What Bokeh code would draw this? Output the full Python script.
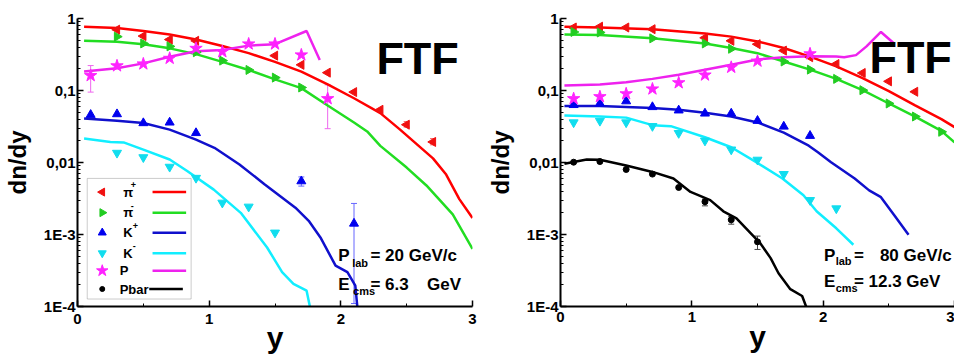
import numpy as np
from bokeh.plotting import figure
from bokeh.models import (Range1d, FixedTicker, BoxAnnotation, Whisker,
                          ColumnDataSource, TeeHead, Label)
from bokeh.layouts import row
from bokeh.embed import file_html
from bokeh.resources import INLINE
from bokeh.core.properties import value

FONT = "Liberation Sans"

# ---------------- data: P_lab = 20 GeV/c ----------------
pip20_x = [0.3, 0.5, 0.7, 0.9, 1.5, 1.7, 1.9, 2.1, 2.3, 2.5, 2.7]
pip20_y = [0.70, 0.57, 0.51, 0.49, 0.305, 0.227, 0.177, 0.095, 0.054, 0.0335, 0.0193]
pim20_x = [0.3, 0.5, 0.7, 0.9, 1.1, 1.3, 1.5, 1.7]
pim20_y = [0.56, 0.45, 0.41, 0.34, 0.26, 0.193, 0.151, 0.110]
kp20_x = [0.1, 0.3, 0.5, 0.7, 0.9, 1.7, 2.1]
kp20_y = [0.046, 0.047, 0.0353, 0.036, 0.0257, 0.0055, 0.00142]
km20_x = [0.3, 0.5, 0.7, 0.9, 1.1, 1.3, 1.5]
km20_y = [0.0136, 0.0118, 0.0087, 0.0061, 0.00276, 0.00243, 0.00106]
p20_x = [0.1, 0.3, 0.5, 0.7, 0.9, 1.1, 1.3, 1.5, 1.7, 1.9]
p20_y = [0.161, 0.22, 0.234, 0.28, 0.385, 0.346, 0.443, 0.443, 0.312, 0.077]

# error bars (x, low, high)
p20_err_x = [0.1, 1.9]
p20_err_lo = [0.095, 0.0295]
p20_err_hi = [0.222, 0.12]
kp20_err_x = [1.7, 2.1]
kp20_err_lo = [0.0047, 0.00011]
kp20_err_hi = [0.0063, 0.0027]
pip20_err_x = [2.5, 2.7]
pip20_err_lo = [0.031, 0.0176]
pip20_err_hi = [0.037, 0.0215]

# FTF model curves, 20 GeV/c
ftf_pip20_x = [0.05, 0.3, 0.5, 0.7, 0.9, 1.1, 1.3, 1.5, 1.7, 1.9, 2.1, 2.3, 2.45, 2.7, 2.8, 2.9, 3.0]
ftf_pip20_y = [0.77, 0.74, 0.67, 0.60, 0.51, 0.415, 0.33, 0.25, 0.183, 0.122, 0.078, 0.0485, 0.0286, 0.0114, 0.0068, 0.0031, 0.0017]
ftf_pim20_x = [0.05, 0.3, 0.5, 0.7, 0.9, 1.1, 1.3, 1.5, 1.7, 1.9, 2.1, 2.2, 2.3, 2.5, 2.65, 2.85, 3.0]
ftf_pim20_y = [0.49, 0.475, 0.44, 0.385, 0.32, 0.25, 0.193, 0.143, 0.108, 0.062, 0.036, 0.027, 0.017, 0.0085, 0.0048, 0.0019, 0.00063]
ftf_kp20_x = [0.05, 0.3, 0.5, 0.7, 0.9, 1.04, 1.23, 1.42, 1.655, 1.756, 1.845, 1.96, 2.05, 2.11, 2.13]
ftf_kp20_y = [0.041, 0.038, 0.0353, 0.0286, 0.0208, 0.016, 0.0094, 0.0050, 0.00236, 0.00155, 0.00091, 0.00037, 0.00030, 0.000195, 0.00008]
ftf_km20_x = [0.05, 0.25, 0.35, 0.5, 0.7, 0.833, 1.035, 1.24, 1.44, 1.554, 1.64, 1.74, 1.77]
ftf_km20_y = [0.0215, 0.0193, 0.019, 0.0151, 0.011, 0.0076, 0.0042, 0.0020, 0.00066, 0.00030, 0.000206, 0.000166, 0.00009]
ftf_p20_x = [0.05, 0.3, 0.5, 0.7, 0.9, 1.1, 1.3, 1.5, 1.74, 1.84]
ftf_p20_y = [0.183, 0.204, 0.238, 0.295, 0.35, 0.365, 0.42, 0.44, 0.67, 0.265]

# ---------------- data: P_lab = 80 GeV/c ----------------
pip80_x = [0.1, 0.3, 0.5, 0.7, 1.1, 1.3, 1.5, 1.7, 1.9, 2.1, 2.3, 2.5, 2.7]
pip80_y = [0.75, 0.77, 0.75, 0.71, 0.54, 0.49, 0.44, 0.358, 0.29, 0.233, 0.175, 0.134, 0.096]
pim80_x = [0.1, 0.3, 0.7, 1.1, 1.3, 1.7, 1.9, 2.1, 2.3, 2.5, 2.7, 2.9]
pim80_y = [0.65, 0.64, 0.53, 0.45, 0.38, 0.253, 0.195, 0.145, 0.101, 0.066, 0.0435, 0.0267]
kp80_x = [0.1, 0.3, 0.5, 0.7, 0.9, 1.1, 1.3, 1.5, 1.7, 1.9]
kp80_y = [0.063, 0.066, 0.071, 0.059, 0.053, 0.048, 0.048, 0.038, 0.0316, 0.0235]
km80_x = [0.1, 0.3, 0.5, 0.7, 0.9, 1.1, 1.3, 1.5, 1.7, 1.9, 2.1]
km80_y = [0.036, 0.0378, 0.036, 0.032, 0.0256, 0.0201, 0.0151, 0.0109, 0.0069, 0.0030, 0.0023]
p80_x = [0.1, 0.3, 0.5, 0.7, 0.9, 1.1, 1.3, 1.5, 1.9]
p80_y = [0.077, 0.082, 0.090, 0.105, 0.128, 0.164, 0.21, 0.256, 0.323]
pbar80_x = [0.1, 0.3, 0.5, 0.7, 0.9, 1.1, 1.3, 1.5]
pbar80_y = [0.0101, 0.0103, 0.0080, 0.0069, 0.0045, 0.00285, 0.0016, 0.00079]
pbar80_err_x = [1.1, 1.3, 1.5]
pbar80_err_lo = [0.0025, 0.00139, 0.00062]
pbar80_err_hi = [0.0031, 0.00178, 0.00095]

ftf_pip80_x = [0.03, 0.3, 0.7, 1.1, 1.3, 1.5, 1.7, 1.9, 2.1, 2.3, 2.5, 2.7, 2.9, 3.0]
ftf_pip80_y = [0.77, 0.75, 0.71, 0.62, 0.56, 0.48, 0.39, 0.296, 0.216, 0.149, 0.098, 0.062, 0.040, 0.031]
ftf_pim80_x = [0.03, 0.3, 0.7, 1.1, 1.3, 1.5, 1.7, 1.9, 2.1, 2.3, 2.5, 2.7, 2.9, 3.0]
ftf_pim80_y = [0.60, 0.59, 0.53, 0.45, 0.39, 0.33, 0.253, 0.195, 0.145, 0.101, 0.066, 0.0435, 0.0275, 0.019]
ftf_kp80_x = [0.03, 0.3, 0.7, 0.9, 1.1, 1.3, 1.5, 1.7, 1.89, 1.96, 2.06, 2.24, 2.35, 2.44, 2.54, 2.65]
ftf_kp80_y = [0.061, 0.061, 0.057, 0.054, 0.049, 0.0435, 0.036, 0.026, 0.0171, 0.0139, 0.0101, 0.0060, 0.0041, 0.0033, 0.00187, 0.00099]
ftf_km80_x = [0.03, 0.3, 0.5, 0.7, 0.84, 1.1, 1.3, 1.49, 1.69, 1.85, 1.95, 2.10, 2.23]
ftf_km80_y = [0.045, 0.0435, 0.042, 0.033, 0.032, 0.0224, 0.0163, 0.0101, 0.0060, 0.0035, 0.0021, 0.00122, 0.00072]
ftf_p80_x = [0.03, 0.3, 0.5, 0.7, 0.9, 1.1, 1.3, 1.5, 1.7, 1.9, 2.1, 2.16, 2.25, 2.33, 2.44, 2.54]
ftf_p80_y = [0.117, 0.121, 0.13, 0.145, 0.166, 0.194, 0.228, 0.27, 0.29, 0.30, 0.296, 0.29, 0.31, 0.41, 0.65, 0.45]
ftf_pbar80_x = [0.03, 0.2, 0.3, 0.5, 0.7, 0.86, 0.99, 1.14, 1.24, 1.34, 1.52, 1.60, 1.66, 1.75, 1.84, 1.87, 1.88]
ftf_pbar80_y = [0.0096, 0.011, 0.0109, 0.0091, 0.0074, 0.0060, 0.0039, 0.0030, 0.0021, 0.00168, 0.00076, 0.00047, 0.00029, 0.000174, 0.00014, 0.0001, 0.00008]

y_ticks = [1e-4, 1e-3, 1e-2, 1e-1, 1.0]
y_tick_labels = ["1E-4", "1E-3", "0,01", "0,1", "1"]
x_ticks = [0, 1, 2, 3]
x_minor = [0.5, 1.5, 2.5]

legend_labels = ["\u03c0", "\u03c0", "K", "K", "P", "Pbar"]
legend_sups = ["+", "-", "+", "-", "", ""]

# ---------------- styles ----------------
C_RED_L, C_RED_M = "#ff0000", "#f01010"
C_GRN_L, C_GRN_M = "#22dd22", "#22cc22"
C_BLU_L, C_BLU_M = "#1010cc", "#0000ee"
C_CYN_L, C_CYN_M = "#11eeff", "#11ddee"
C_MAG_L, C_MAG_M = "#ee22ee", "#ff22ff"
C_BLK = "#000000"


def base_fig(width, mbl, mbr, mbt, mbb, xl_standoff, xlab_standoff):
    p = figure(width=width, height=359, output_backend="svg", toolbar_location=None,
               x_range=Range1d(0, 3), y_range=Range1d(1e-4, 1), y_axis_type="log",
               min_border_left=mbl, min_border_right=mbr, min_border_top=mbt,
               min_border_bottom=mbb)
    p.outline_line_color = None
    p.xgrid.grid_line_color = None
    p.ygrid.grid_line_color = None
    p.background_fill_color = "white"
    p.border_fill_color = "white"
    minors = [k * 10.0 ** e for e in range(-4, 0) for k in range(2, 10)]
    p.yaxis.ticker = FixedTicker(ticks=y_ticks, minor_ticks=minors)
    p.yaxis.major_label_overrides = {t: l for t, l in zip(y_ticks, y_tick_labels)}
    p.xaxis.ticker = FixedTicker(ticks=x_ticks, minor_ticks=x_minor)
    for ax in (p.xaxis[0], p.yaxis[0]):
        ax.axis_line_width = 2
        ax.axis_line_color = "black"
        ax.major_tick_in = 6
        ax.major_tick_out = 0
        ax.minor_tick_in = 3
        ax.minor_tick_out = 0
        ax.major_tick_line_width = 1.5
        ax.minor_tick_line_width = 1
        ax.major_label_text_font = FONT
        ax.major_label_text_font_style = "bold"
        ax.major_label_text_font_size = "15px"
        ax.major_label_text_color = "black"
        ax.axis_label_text_font = FONT
        ax.axis_label_text_font_style = "bold"
        ax.axis_label_text_color = "black"
    p.yaxis.axis_label = "dn/dy"
    p.yaxis.axis_label_text_font_size = "24px"
    p.yaxis.major_label_standoff = 2
    p.yaxis.axis_label_standoff = 10
    p.xaxis.axis_label = "y"
    p.xaxis.axis_label_text_font_size = "30px"
    p.xaxis.major_label_standoff = xl_standoff
    p.xaxis.axis_label_standoff = xlab_standoff
    return p


def add_text(p, x, y, txt, size, align="left"):
    p.add_layout(Label(x=x, y=y, text=txt, text_font=FONT, text_font_style="bold",
                       text_font_size=size, text_color="black", text_align=align,
                       text_baseline="alphabetic"))


def whisk(p, xs, lo, hi, color):
    src = ColumnDataSource(dict(base=xs, lower=lo, upper=hi))
    p.add_layout(Whisker(source=src, base="base", lower="lower", upper="upper",
                         line_color=color, line_width=1,
                         upper_head=TeeHead(size=6, line_color=color, line_width=1),
                         lower_head=TeeHead(size=6, line_color=color, line_width=1)))


LW = 2.5

# ================= left panel =================
p1 = base_fig(477, 77, 5, 17, 53, 7, -6)
p1.line(ftf_pip20_x, ftf_pip20_y, color=C_RED_L, line_width=LW)
p1.line(ftf_pim20_x, ftf_pim20_y, color=C_GRN_L, line_width=LW)
p1.line(ftf_kp20_x, ftf_kp20_y, color=C_BLU_L, line_width=LW)
p1.line(ftf_km20_x, ftf_km20_y, color=C_CYN_L, line_width=LW)
p1.line(ftf_p20_x, ftf_p20_y, color=C_MAG_L, line_width=LW)
whisk(p1, p20_err_x, p20_err_lo, p20_err_hi, "#ee66ee")
whisk(p1, kp20_err_x, kp20_err_lo, kp20_err_hi, "#6666ff")
whisk(p1, pip20_err_x, pip20_err_lo, pip20_err_hi, "#ff6666")
p1.scatter(pip20_x, pip20_y, marker="triangle", angle=np.pi / 2, size=9, color=C_RED_M)
p1.scatter(pim20_x, pim20_y, marker="triangle", angle=-np.pi / 2, size=9, color=C_GRN_M)
p1.scatter(kp20_x, kp20_y, marker="triangle", size=9, color=C_BLU_M)
p1.scatter(km20_x, km20_y, marker="inverted_triangle", size=9, color=C_CYN_M)
p1.scatter(p20_x, p20_y, marker="star", size=13, color=C_MAG_M)

# legend box (drawn inside data space of the left panel)
p1.add_layout(BoxAnnotation(left=0.074, right=0.863, top=0.00601, bottom=1.27e-4,
                            fill_color="white", fill_alpha=1.0,
                            line_color="#555555", line_width=1, level="annotation"))
leg_rows = [0.00388, 0.00201, 0.00106, 0.000551, 0.000314, 0.000175]
leg_markers = [("triangle", np.pi / 2, C_RED_M, 8), ("triangle", -np.pi / 2, C_GRN_M, 8),
               ("triangle", 0.0, C_BLU_M, 8), ("inverted_triangle", 0.0, C_CYN_M, 8),
               ("star", 0.0, C_MAG_M, 12), ("circle", 0.0, C_BLK, 5)]
leg_lines = [C_RED_L, C_GRN_L, C_BLU_L, C_CYN_L, C_MAG_L, C_BLK]
for i, yrow in enumerate(leg_rows):
    mk, ang, col, sz = leg_markers[i]
    r = p1.scatter([0.188], [yrow], marker=mk, angle=ang, size=sz, color=col)
    r.level = "overlay"
    x0 = 0.545 if i == 5 else 0.57
    r = p1.segment(x0=[x0], y0=[yrow], x1=[x0 + 0.255], y1=[yrow], line_color=leg_lines[i],
                   line_width=2.5)
    r.level = "overlay"
    lx = 0.32 if i >= 4 else 0.347
    r = p1.text(x=[lx], y=[yrow], text=[legend_labels[i]], text_font=value(FONT),
                text_font_style="bold", text_font_size="13px", text_baseline="middle",
                text_color="black")
    r.level = "overlay"
    if legend_sups[i]:
        sx = 0.405 if i < 2 else 0.42
        r = p1.text(x=[sx], y=[yrow * 1.25], text=[legend_sups[i]], text_font=value(FONT),
                    text_font_style="bold", text_font_size="9px", text_baseline="middle",
                    text_color="black")
        r.level = "overlay"

add_text(p1, 2.27, 0.28, "FTF", "45px")
add_text(p1, 1.98, 5.06e-4, "P", "17px")
add_text(p1, 2.086, 4.05e-4, "lab", "11px")
add_text(p1, 2.225, 5.06e-4, "= 20 GeV/c", "17px")
add_text(p1, 1.98, 2.05e-4, "E", "17px")
add_text(p1, 2.093, 1.66e-4, "cms", "11px")
add_text(p1, 2.225, 2.05e-4, "= 6.3", "17px")
add_text(p1, 2.655, 2.05e-4, "GeV", "17px")

# ================= right panel =================
p2 = base_fig(477, 83, 0, 18, 50, 5, -5)
p2.line(ftf_pip80_x, ftf_pip80_y, color=C_RED_L, line_width=LW)
p2.line(ftf_pim80_x, ftf_pim80_y, color=C_GRN_L, line_width=LW)
p2.line(ftf_kp80_x, ftf_kp80_y, color=C_BLU_L, line_width=LW)
p2.line(ftf_km80_x, ftf_km80_y, color=C_CYN_L, line_width=LW)
p2.line(ftf_p80_x, ftf_p80_y, color=C_MAG_L, line_width=LW)
p2.line(ftf_pbar80_x, ftf_pbar80_y, color=C_BLK, line_width=LW)
whisk(p2, pbar80_err_x, pbar80_err_lo, pbar80_err_hi, "#444444")
p2.scatter(pip80_x, pip80_y, marker="triangle", angle=np.pi / 2, size=9, color=C_RED_M)
p2.scatter(pim80_x, pim80_y, marker="triangle", angle=-np.pi / 2, size=9, color=C_GRN_M)
p2.scatter(kp80_x, kp80_y, marker="triangle", size=9, color=C_BLU_M)
p2.scatter(km80_x, km80_y, marker="inverted_triangle", size=9, color=C_CYN_M)
p2.scatter(p80_x, p80_y, marker="star", size=13, color=C_MAG_M)
p2.scatter(pbar80_x, pbar80_y, marker="circle", size=6, color=C_BLK)

add_text(p2, 2.352, 0.284, "FTF", "45px")
add_text(p2, 2.006, 5.16e-4, "P", "17px")
add_text(p2, 2.095, 4.27e-4, "lab", "11px")
add_text(p2, 2.234, 5.16e-4, "=", "17px")
add_text(p2, 2.432, 5.16e-4, "80 GeV/c", "17px")
add_text(p2, 2.006, 2.21e-4, "E", "17px")
add_text(p2, 2.095, 1.79e-4, "cms", "11px")
add_text(p2, 2.234, 2.21e-4, "= 12.3 GeV", "17px")

layout = row(p1, p2)
open("out.html", "w").write(file_html(layout, INLINE))
